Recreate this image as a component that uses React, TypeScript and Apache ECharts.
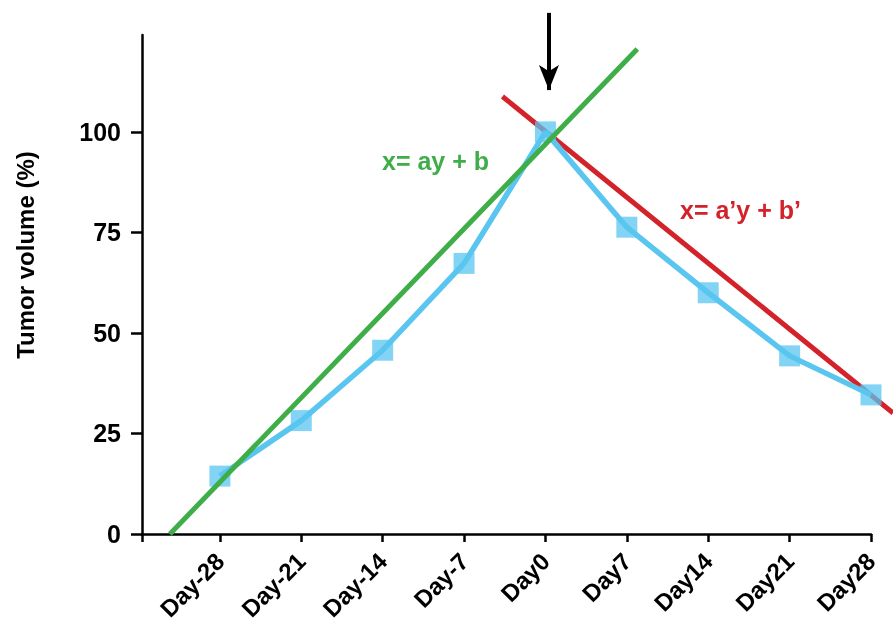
import React, { useEffect, useRef } from "react";
import * as echarts from "echarts";

const days = [-28, -21, -14, -7, 0, 7, 14, 21, 28];
const dayLabels = ["Day-28", "Day-21", "Day-14", "Day-7", "Day0", "Day7", "Day14", "Day21", "Day28"];
const tumorVolume = [14.4, 28.2, 45.7, 67.3, 100, 76.3, 60.0, 44.3, 34.6];
const yTicks = [0, 25, 50, 75, 100];
const preFit = [[-32.3, 0], [7.9, 120.6]];
const postFit = [[-3.7, 108.8], [29.9, 30.1]];
const arrowCoords = [[0.3, 129.6], [0.3, 110.4]];
const xMin = -34.7;
const xMax = 28;
const yMax = 124.1;

const FONT = "'Liberation Sans', Arial, Helvetica, sans-serif";
const BLUE = "#5ac6f0";
const GREEN = "#3fae49";
const RED = "#d3222a";

export default function App() {
  const ref = useRef<HTMLDivElement>(null);
  useEffect(() => {
    if (!ref.current) return;
    const chart = echarts.init(ref.current, null, { renderer: "svg" });
    chart.setOption({
      animation: false,
      textStyle: { fontFamily: FONT },
      grid: { left: 142, right: 22, top: 35, bottom: 90, containLabel: false, outerBoundsMode: "none" },
      xAxis: {
        type: "value",
        min: xMin,
        max: xMax,
        splitLine: { show: false },
        axisLine: { show: true, onZero: false, lineStyle: { color: "#000", width: 2.5 } },
        axisTick: { show: true, length: 8, lineStyle: { color: "#000", width: 2.5 }, customValues: [xMin, ...days] },
        axisLabel: {
          customValues: days,
          rotate: 45,
          margin: 23,
          fontSize: 24,
          fontWeight: "bold",
          color: "#000",
          fontFamily: FONT,
          formatter: (v: number) => {
            const i = days.indexOf(Math.round(v));
            return i >= 0 ? dayLabels[i] : "";
          },
        },
      },
      yAxis: {
        type: "value",
        min: 0,
        max: yMax,
        splitLine: { show: false },
        axisLine: { show: true, onZero: false, lineStyle: { color: "#000", width: 2.5 } },
        axisTick: { show: true, length: 11, lineStyle: { color: "#000", width: 2.5 }, customValues: yTicks },
        axisLabel: {
          customValues: yTicks,
          margin: 21,
          fontSize: 25,
          fontWeight: "bold",
          color: "#000",
          fontFamily: FONT,
        },
      },
      graphic: [
        {
          type: "text",
          x: 25,
          y: 255,
          rotation: Math.PI / 2,
          style: {
            text: "Tumor volume (%)",
            fill: "#000",
            font: `bold 24px ${FONT}`,
            align: "center",
            verticalAlign: "middle",
          },
        },
        {
          type: "text",
          x: 382,
          y: 161,
          style: {
            text: "x= ay + b",
            fill: GREEN,
            font: `bold 25px ${FONT}`,
            align: "left",
            verticalAlign: "middle",
          },
        },
        {
          type: "text",
          x: 680,
          y: 210,
          style: {
            text: "x= a\u2019y + b\u2019",
            fill: RED,
            font: `bold 25px ${FONT}`,
            align: "left",
            verticalAlign: "middle",
          },
        },
      ],
      series: [
        {
          type: "lines",
          name: "post",
          coordinateSystem: "cartesian2d",
          clip: false,
          z: 2,
          symbol: "none",
          lineStyle: { color: RED, width: 5, opacity: 1 },
          data: [{ coords: postFit }],
          silent: true,
        },
        {
          type: "line",
          name: "tumor",
          data: days.map((d, i) => [d, tumorVolume[i]]),
          symbol: "rect",
          symbolSize: 21,
          clip: false,
          z: 3,
          lineStyle: { color: BLUE, width: 5.5 },
          itemStyle: { color: BLUE, opacity: 0.75 },
          silent: true,
        },
        {
          type: "lines",
          name: "pre",
          coordinateSystem: "cartesian2d",
          clip: false,
          z: 4,
          symbol: "none",
          lineStyle: { color: GREEN, width: 5, opacity: 1 },
          data: [{ coords: preFit }],
          silent: true,
        },
        {
          type: "lines",
          coordinateSystem: "cartesian2d",
          clip: false,
          z: 5,
          symbol: ["none", "arrow"],
          symbolSize: [0, [15, 25]],
          lineStyle: { color: "#000", width: 4, opacity: 1 },
          data: [{ coords: arrowCoords }],
          silent: true,
        },
      ],
    });
    return () => chart.dispose();
  }, []);
  return <div ref={ref} style={{ position: "fixed", left: 0, top: 0, width: 893, height: 624 }} />;
}
